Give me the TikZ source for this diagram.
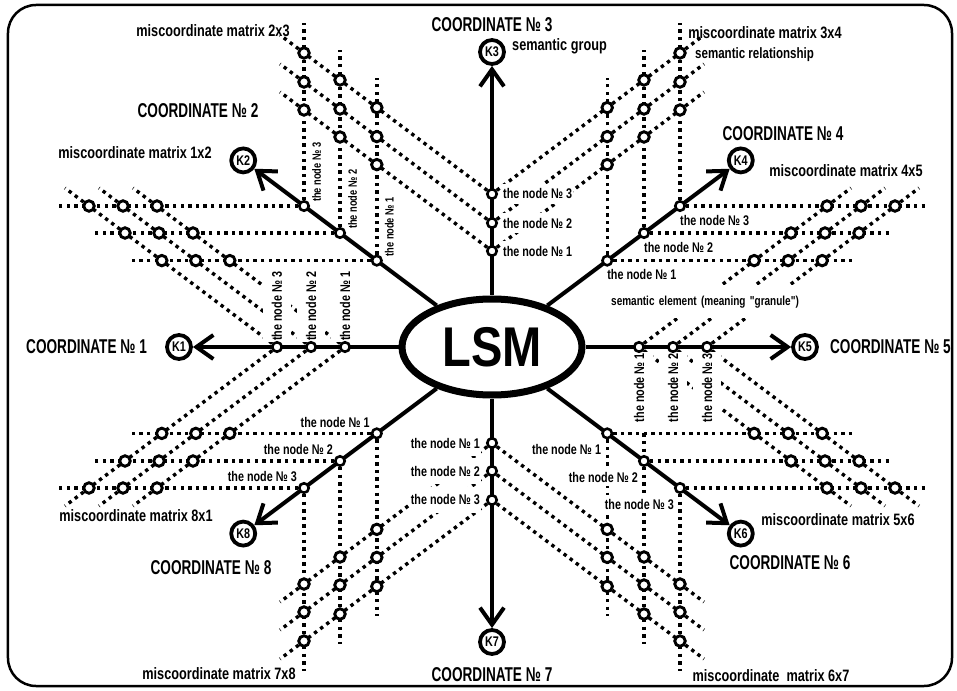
\documentclass[tikz,border=0pt]{standalone}
\usepackage{fontspec}
\setmainfont{Liberation Sans}
\newfontfamily\narrowfont[FakeStretch=0.77]{Liberation Sans}
\newfontfamily\coordfont[FakeStretch=0.68]{Liberation Sans}
\newfontfamily\lsmfont[FakeStretch=0.84]{Liberation Sans}
\usepackage{tikz}
\usetikzlibrary{arrows.meta,positioning,calc,shapes.geometric}
\pgfdeclarelayer{back}
\pgfdeclarelayer{mid}
\pgfsetlayers{back,mid,main}

\tikzset{
    lsmnode/.style={ellipse, draw, line width=7pt, fill=white, minimum width=180pt, minimum height=96pt, inner sep=0pt, font=\lsmfont\bfseries\fontsize{56}{56}\selectfont},
    kcircle/.style={circle, draw, line width=3.8pt, fill=white, minimum size=24pt, inner sep=0pt, font=\narrowfont\bfseries\fontsize{14}{14}\selectfont},
    axisnode/.style={circle, draw, line width=2.6pt, fill=white, minimum size=9.5pt, inner sep=0pt},
    gridnode/.style={circle, draw, line width=2.9pt, fill=white, minimum size=10.5pt, inner sep=0pt},
    axisline/.style={line width=4pt, -{Straight Barb[length=17pt,width=24pt]}},
    dotline/.style={line width=3.4pt, dash pattern=on 3.4pt off 4.2pt},
    coordlab/.style={font=\coordfont\bfseries\fontsize{20}{20}\selectfont, inner sep=1pt},
    matrixlab/.style={font=\narrowfont\bfseries\fontsize{16.5}{18}\selectfont, inner sep=1pt},
    nodelab/.style={font=\narrowfont\bfseries\fontsize{14}{14}\selectfont, fill=white, inner sep=1pt},
}

% axis angles, node distances (1st, 2nd, 3rd node) and K distances, indexed by axis
\def\angs{{0,180,143.13,90,36.87,0,-36.87,-90,-143.13}}
\def\dA{{0,147,144,96,144,147,144,96,144}}
\def\dB{{0,181,190,124,190,181,190,124,190}}
\def\dC{{0,215,235,153,235,215,235,153,235}}
\def\dK{{0,313,311,295,311,313,311,295,311}}

\begin{document}
\begin{tikzpicture}[x=1pt, y=1pt]
    \useasboundingbox (-492,-343) rectangle (465,347);
    \draw[line width=2.5pt, rounded corners=28pt] (-484,342) rectangle (460,-339); % frame

    \node[lsmnode] (lsm) at (0,0) {LSM};

    % the eight coordinates with their nodes
    \foreach \kk in {1,...,8}{
        \pgfmathsetmacro\ang{\angs[\kk]}
        \pgfmathsetmacro\rad{\dK[\kk]}
        \node[kcircle] (k\kk) at (\ang:\rad) {K\kk};
        \draw[axisline] (lsm) -- (k\kk);
        \foreach \i/\dl in {1/\dA,2/\dB,3/\dC}{
            \pgfmathsetmacro\rad{\dl[\kk]}
            \node[axisnode] (n\kk-\i) at (\ang:\rad) {};
        }
    }

    % miscoordinate matrices between neighbouring coordinates
    \foreach \ka/\kb in {1/2,2/3,3/4,4/5,5/6,6/7,7/8,8/1}{
        \pgfmathsetmacro\angA{\angs[\ka]}
        \pgfmathsetmacro\angB{\angs[\kb]}
        \pgfmathsetmacro\lenA{\dC[\ka]+30}
        \pgfmathsetmacro\lenB{\dC[\kb]+30}
        \foreach \i in {1,2,3}{
            \coordinate (ea\ka\kb-\i) at ($(n\ka-\i)+(\angB:\lenB)$);
            \coordinate (eb\ka\kb-\i) at ($(n\kb-\i)+(\angA:\lenA)$);
            \begin{pgfonlayer}{back}
                \draw[dotline] (n\ka-\i) -- (ea\ka\kb-\i);
                \draw[dotline] (n\kb-\i) -- (eb\ka\kb-\i);
            \end{pgfonlayer}
            \foreach \j in {1,2,3}
                \node[gridnode] (m\ka\kb-\i-\j) at ($(n\ka-\i)+(n\kb-\j)$) {};
        }
    }
    \begin{pgfonlayer}{back}
        \draw[dotline] (n6-2 |- n6-1) -- (n6-2);
    \end{pgfonlayer}

    % labels of the nodes on each coordinate
    \begin{pgfonlayer}{mid}
        \foreach \i in {1,2,3} \node[nodelab, rotate=90, anchor=west, inner ysep=9pt] (l1-\i) at ($(n1-\i)+(0,5)$) {the node № \i};
        \foreach \i in {1,2,3} \node[nodelab, rotate=90, anchor=north west, font=\narrowfont\bfseries\fontsize{12}{12}\selectfont] (l2-\i) at ($(n2-\i)+(7,3)$) {the node № \i};
        \foreach \i in {1,2,3} \node[nodelab, anchor=west, inner ysep=5pt] (l3-\i) at ($(n3-\i)+(10,0)$) {the node № \i};
        \foreach \i in {1,2,3} \node[nodelab, anchor=north west] (l4-\i) at ($(n4-\i)+(-1,-8)$) {the node № \i};
        \foreach \i in {1,2,3} \node[nodelab, rotate=90, anchor=east, inner ysep=9pt] (l5-\i) at ($(n5-\i)+(0,-5)$) {the node № \i};
        \foreach \i in {1,2,3} \node[nodelab, anchor=north east, inner ysep=4pt] (l6-\i) at ($(n6-\i)+(-5,-7)$) {the node № \i};
        \foreach \i in {1,2,3} \node[nodelab, anchor=east, inner ysep=8pt] (l7-\i) at ($(n7-\i)+(-11,0)$) {the node № \i};
        \foreach \i in {1,2,3} \node[nodelab, anchor=south east] (l8-\i) at ($(n8-\i)+(-6,5)$) {the node № \i};
        \node[nodelab, anchor=west, inner xsep=6pt, text width=213pt, minimum height=33pt, align=left, font=\narrowfont\bfseries\fontsize{13}{13}\selectfont] (semelem) at (113,45) {semantic element (meaning "granule")};
    \end{pgfonlayer}

    % names of the coordinates
    \node[coordlab, left=17pt of k1] (c1) {COORDINATE № 1};
    \node[coordlab] (c2) at (-294,236) {COORDINATE № 2};
    \node[coordlab, above=5pt of k3] (c3) {COORDINATE № 3};
    \node[coordlab] (c4) at (291,213) {COORDINATE № 4};
    \node[coordlab, right=10pt of k5] (c5) {COORDINATE № 5};
    \node[coordlab] (c6) at (298,-216) {COORDINATE № 6};
    \node[coordlab, below=10pt of k7] (c7) {COORDINATE № 7};
    \node[coordlab] (c8) at (-281,-221) {COORDINATE № 8};

    % names of the matrices
    \node[matrixlab] (t12) at (-357,194) {miscoordinate matrix 1x2};
    \node[matrixlab] (t23) at (-279,316) {miscoordinate matrix 2x3};
    \node[matrixlab] (t34) at (273,314) {miscoordinate matrix 3x4};
    \node[matrixlab] (t45) at (354,176) {miscoordinate matrix 4x5};
    \node[matrixlab] (t56) at (346,-173) {miscoordinate matrix 5x6};
    \node[matrixlab] (t67) at (279,-329) {miscoordinate\ \ matrix 6x7};
    \node[matrixlab] (t78) at (-273,-327) {miscoordinate matrix 7x8};
    \node[matrixlab] (t81) at (-356,-169) {miscoordinate matrix 8x1};
    \node[matrixlab, anchor=west] (semgroup) at (19,301) {semantic group};
    \node[matrixlab, anchor=west, font=\narrowfont\bfseries\fontsize{15}{15}\selectfont] (semrel) at (202,292) {semantic relationship};
\end{tikzpicture}
\end{document}
